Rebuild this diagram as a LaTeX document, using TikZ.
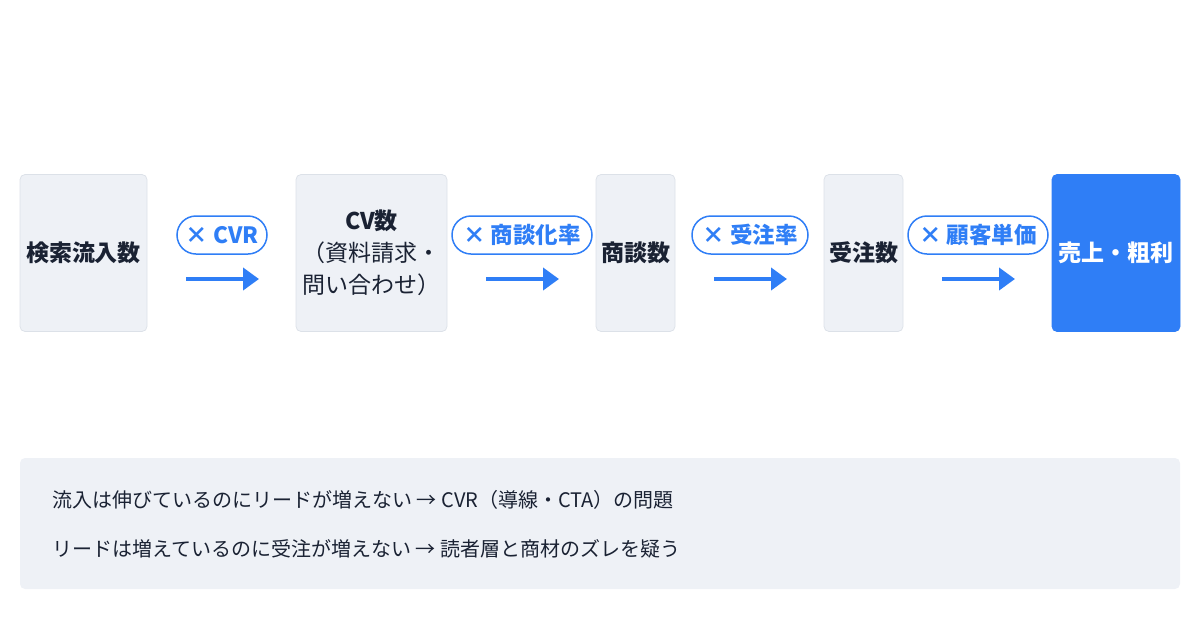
\documentclass[tikz,border=0pt]{standalone}
\usepackage{fontspec}
\setmainfont{Noto Sans CJK JP}
\usetikzlibrary{arrows.meta}
\definecolor{boxgray}{HTML}{EEF1F6}
\definecolor{boxline}{HTML}{DCE1E8}
\definecolor{inkdark}{HTML}{1A2233}
\definecolor{accent}{HTML}{2F7EF6}
\tikzset{every picture/.style={line width=0.75pt}}
\tikzset{
  stage/.style={draw=boxline,fill=boxgray,rounded corners=5pt,minimum height=157pt,
    text=inkdark,font=\fontsize{23}{32}\selectfont\bfseries,align=center,inner sep=0pt},
  goal/.style={stage,draw=accent,fill=accent,text=white},
  rate/.style={draw=accent,line width=1.5pt,rounded corners=19pt,minimum height=38pt,
    text=accent,font=\fontsize{22.5}{24}\selectfont\bfseries,inner sep=0pt},
  flow/.style={accent,line width=4pt,-{Triangle[length=16pt,width=22pt]}},
  note/.style={anchor=west,inner sep=0pt,text=inkdark,font=\fontsize{20}{22}\selectfont}
}
\begin{document}
\begin{tikzpicture}[x=1pt,y=1pt,yscale=-1,xscale=1]
	\useasboundingbox (0,0) rectangle (1200,630);

	% Stage boxes
	\node[stage,minimum width=127pt] (search) at (83.5,253) {検索流入数};
	\node[stage,minimum width=151pt] (cv) at (371.5,253) {CV数\\\mdseries（資料請求・\\\mdseries 問い合わせ）};
	\node[stage,minimum width=79pt] (deal) at (635.5,253) {商談数};
	\node[stage,minimum width=79pt] (order) at (863.5,253) {受注数};
	\node[goal,minimum width=128pt] (sales) at (1116,253) {売上・粗利};

	% Rate labels
	\node[rate,minimum width=90pt] (cvr) at (222,235) {× CVR};
	\node[rate,minimum width=140pt] (dealrate) at (522,235) {× 商談化率};
	\node[rate,minimum width=116pt] (orderrate) at (750,235) {× 受注率};
	\node[rate,minimum width=140pt] (unitprice) at (978,235) {× 顧客単価};

	% Arrows
	\coordinate (a1) at (186,279); \coordinate (b1) at (259,279);
	\coordinate (a2) at (486,279); \coordinate (b2) at (559,279);
	\coordinate (a3) at (714,279); \coordinate (b3) at (787,279);
	\coordinate (a4) at (942,279); \coordinate (b4) at (1015,279);
	\foreach \i in {1,...,4}
		\draw[flow] (a\i) -- (b\i);

	% Notes panel
	\node[fill=boxgray,rounded corners=5pt,minimum width=1160pt,minimum height=131pt,inner sep=0pt] (panel) at (600,523.5) {};
	\node[note] (note1) at (52,500) {流入は伸びているのにリードが増えない → CVR（導線・CTA）の問題};
	\node[note] (note2) at (52,549) {リードは増えているのに受注が増えない → 読者層と商材のズレを疑う};
\end{tikzpicture}
\end{document}
